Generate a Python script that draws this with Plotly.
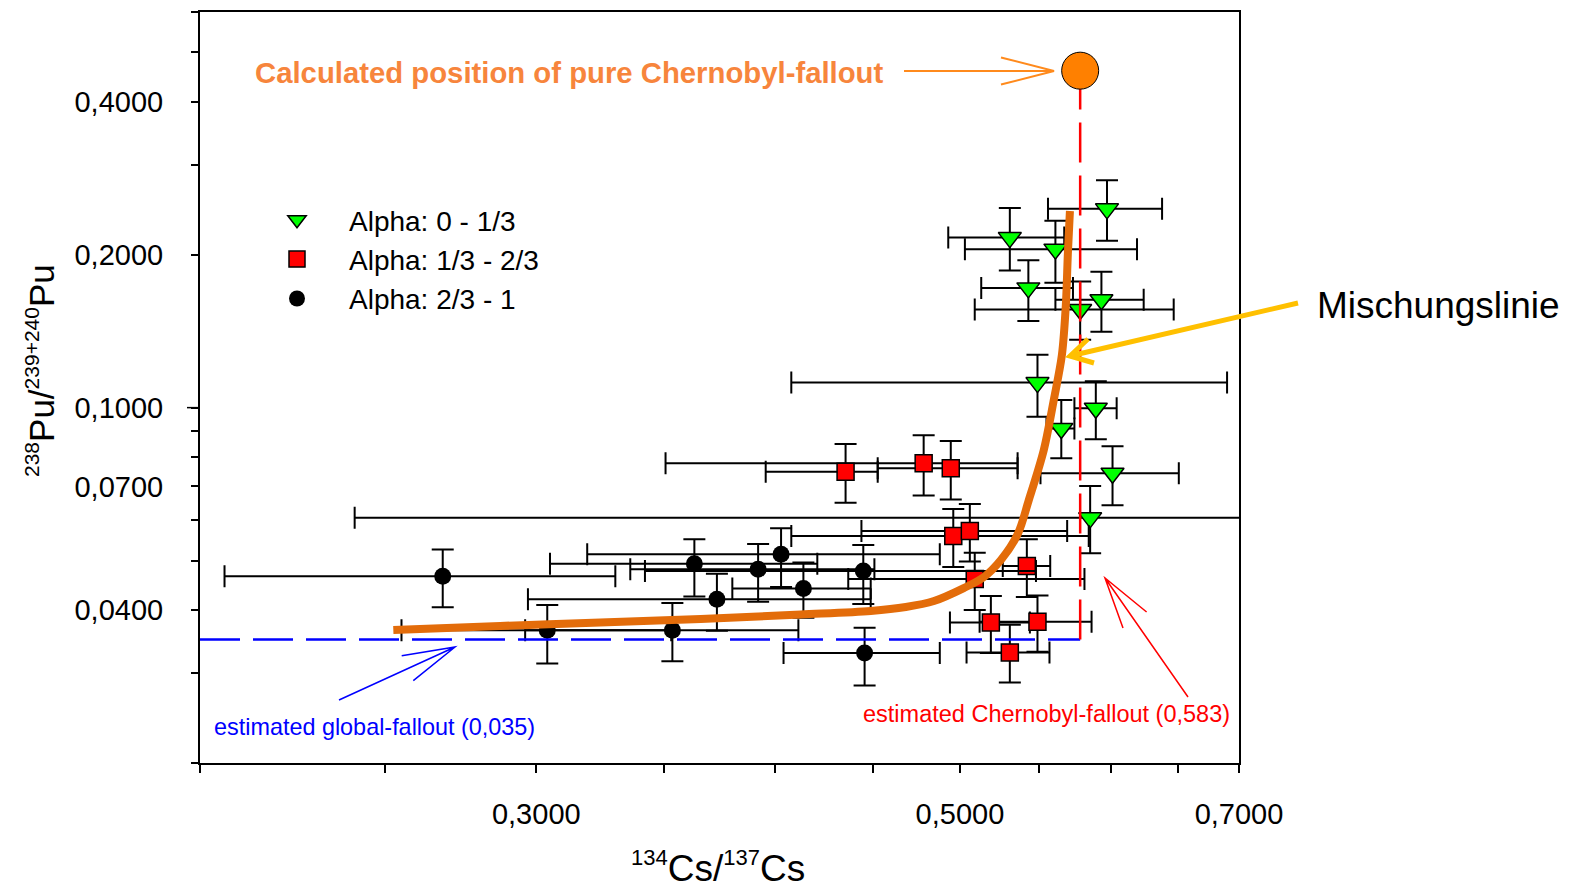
import math
import plotly.graph_objects as go

# ---------------- data ----------------
# Alpha: 0 - 1/3  (green triangles)
green_x = [0.597, 0.531, 0.561, 0.543, 0.578, 0.593, 0.549, 0.589, 0.565, 0.601, 0.585]
green_x_minus = [0.041, 0.038, 0.058, 0.030, 0.069, 0.032, 0.141, 0.015, 0.010, 0.050, 0.344]
green_x_plus = [0.041, 0.036, 0.058, 0.030, 0.069, 0.031, 0.141, 0.015, 0.009, 0.050, 0.344]
green_y = [0.246, 0.216, 0.205, 0.172, 0.156, 0.163, 0.112, 0.0997, 0.091, 0.0743, 0.0607]
green_y_minus = [0.033, 0.030, 0.029, 0.024, 0.020, 0.022, 0.016, 0.013, 0.0115, 0.010, 0.009]
green_y_plus = [0.034, 0.031, 0.028, 0.023, 0.021, 0.022, 0.015, 0.013, 0.0125, 0.0097, 0.0094]

# Alpha: 1/3 - 2/3  (red squares)
red_x = [0.4356, 0.4786, 0.4945, 0.496, 0.506, 0.542, 0.509, 0.519, 0.549, 0.531]
red_x_minus = [0.040, 0.128, 0.0417, 0.088, 0.062, 0.0155, 0.072, 0.025, 0.037, 0.027]
red_x_plus = [0.0172, 0.0574, 0.0415, 0.088, 0.063, 0.0155, 0.072, 0.025, 0.037, 0.026]
red_y = [0.0748, 0.0777, 0.0760, 0.0559, 0.0572, 0.0488, 0.0460, 0.0378, 0.0379, 0.0330]
red_y_minus = [0.0098, 0.0105, 0.0100, 0.0073, 0.0074, 0.0064, 0.0060, 0.0049, 0.0048, 0.0042]
red_y_plus = [0.0100, 0.0105, 0.0100, 0.0073, 0.0074, 0.0063, 0.0058, 0.0048, 0.0048, 0.0044]

# Alpha: 2/3 - 1  (black circles)
black_x = [0.268, 0.304, 0.3535, 0.363, 0.373, 0.392, 0.403, 0.414, 0.445, 0.4457]
black_x_minus = [0.062, 0.049, 0.0575, 0.058, 0.076, 0.056, 0.084, 0.034, 0.103, 0.0415]
black_x_plus = [0.062, 0.049, 0.058, 0.058, 0.076, 0.059, 0.085, 0.035, 0.103, 0.0423]
black_y = [0.0466, 0.0365, 0.0365, 0.0493, 0.0420, 0.0481, 0.0515, 0.0441, 0.0477, 0.0329]
black_y_minus = [0.0061, 0.0051, 0.0048, 0.0068, 0.0056, 0.0066, 0.0071, 0.0055, 0.0066, 0.0045]
black_y_plus = [0.0060, 0.0044, 0.0048, 0.0058, 0.0051, 0.0058, 0.0064, 0.0055, 0.0060, 0.0040]

# Mixing line (Mischungslinie)
curve_x = [0.2525, 0.2872, 0.3241, 0.3658, 0.4127, 0.4490, 0.4684, 0.4846, 0.5023, 0.5146,
           0.5253, 0.5361, 0.5433, 0.5532, 0.5599, 0.5654, 0.5681, 0.5695, 0.5709]
curve_y = [0.03653, 0.03720, 0.03779, 0.03840, 0.03919, 0.03982, 0.04054, 0.04166, 0.04417, 0.04642,
           0.05015, 0.05641, 0.06581, 0.08254, 0.10350, 0.12688, 0.15912, 0.20136, 0.24360]

global_fallout_pu = 0.035        # estimated global-fallout
chernobyl_cs = 0.578             # estimated Chernobyl-fallout line as drawn
chernobyl_pu = 0.46              # calculated position of pure Chernobyl-fallout
x_start = 0.2

x_tickvals = [0.20, 0.25, 0.30, 0.35, 0.40, 0.45, 0.50, 0.55, 0.60, 0.65, 0.70]
x_ticktext = ["", "", "0,3000", "", "", "", "0,5000", "", "", "", "0,7000"]
y_tickvals = [0.02, 0.03, 0.04, 0.05, 0.06, 0.07, 0.08, 0.09, 0.1, 0.2, 0.3, 0.4, 0.5, 0.6]
y_ticktext = ["", "", "0,0400", "", "", "0,0700", "", "", "0,1000", "0,2000", "", "0,4000", "", ""]

X_RANGE = (0.2, 0.7)
Y_RANGE = (0.02, 0.6)

# ---------------- layout helpers ----------------
W, H = 1571, 890
L, R, T, B = 200, 1239, 12, 763
FONT = "Liberation Sans, Arial, sans-serif"


def px(xp):
    return (xp - L) / (R - L)


def py(yp):
    return (B - yp) / (B - T)


def arrow_path(x0, y0, x1, y1, a1, a2):
    """shaft (x0,y0)->(x1,y1) plus chevron arms ending at a1, a2 (pixels)"""
    return ("M {} {} L {} {} M {} {} L {} {} L {} {}".format(
        px(x0), py(y0), px(x1), py(y1),
        px(a1[0]), py(a1[1]), px(x1), py(y1), px(a2[0]), py(a2[1])))


def sup(t, size):
    return "<sup><span style='font-size:{}px'>{}</span></sup>".format(size, t)


fig = go.Figure()


def err(arr_plus, arr_minus):
    return dict(type="data", symmetric=False, array=arr_plus, arrayminus=arr_minus,
                color="black", thickness=2, width=11)


fig.add_trace(go.Scatter(
    x=green_x, y=green_y, mode="markers", name="Alpha: 0 - 1/3",
    marker=dict(symbol="triangle-down", size=20, color="#00FF00",
                line=dict(color="black", width=1.5)),
    error_x=err(green_x_plus, green_x_minus), error_y=err(green_y_plus, green_y_minus)))

fig.add_trace(go.Scatter(
    x=red_x, y=red_y, mode="markers", name="Alpha: 1/3 - 2/3",
    marker=dict(symbol="square", size=17, color="#FF0000",
                line=dict(color="black", width=1.5)),
    error_x=err(red_x_plus, red_x_minus), error_y=err(red_y_plus, red_y_minus)))

fig.add_trace(go.Scatter(
    x=black_x, y=black_y, mode="markers", name="Alpha: 2/3 - 1",
    marker=dict(symbol="circle", size=17, color="black"),
    error_x=err(black_x_plus, black_x_minus), error_y=err(black_y_plus, black_y_minus)))

# global fallout (blue dashed)
fig.add_trace(go.Scatter(
    x=[x_start, chernobyl_cs], y=[global_fallout_pu, global_fallout_pu], mode="lines",
    line=dict(color="#0000FF", width=2.5, dash="40px,13px"), showlegend=False, hoverinfo="skip"))

# Chernobyl fallout (red dashed)
fig.add_trace(go.Scatter(
    x=[chernobyl_cs, chernobyl_cs], y=[global_fallout_pu, chernobyl_pu], mode="lines",
    line=dict(color="#FF0000", width=2.5, dash="40px,13px"), showlegend=False, hoverinfo="skip"))

# mixing line
fig.add_trace(go.Scatter(
    x=curve_x, y=curve_y, mode="lines",
    line=dict(color="#E36C0A", width=8, shape="spline", smoothing=0.9),
    showlegend=False, hoverinfo="skip"))

# pure Chernobyl point
fig.add_trace(go.Scatter(
    x=[chernobyl_cs], y=[chernobyl_pu], mode="markers",
    marker=dict(symbol="circle", size=37, color="#FF8000", line=dict(color="black", width=1)),
    showlegend=False, hoverinfo="skip", cliponaxis=False))

axis_common = dict(type="log", showgrid=False, zeroline=False, showline=True, linecolor="black",
                   linewidth=2, mirror=True, ticks="outside", tickcolor="black", tickwidth=1.5,
                   tickmode="array", tickfont=dict(size=29, family=FONT, color="black"))

fig.update_xaxes(**axis_common, range=[math.log10(X_RANGE[0]), math.log10(X_RANGE[1])],
                 tickvals=x_tickvals, ticktext=x_ticktext, ticklen=8, ticklabelstandoff=16)
fig.update_yaxes(**axis_common, range=[math.log10(Y_RANGE[0]), math.log10(Y_RANGE[1])],
                 tickvals=y_tickvals, ticktext=y_ticktext, ticklen=7, ticklabelstandoff=22)

y01 = (math.log10(0.1) - math.log10(Y_RANGE[0])) / (math.log10(Y_RANGE[1]) - math.log10(Y_RANGE[0]))

shapes = [
    # longer tick at 0,1000
    dict(type="line", xref="paper", yref="paper", x0=px(187), x1=px(199), y0=y01, y1=y01,
         line=dict(color="black", width=1.5)),
    # orange arrow to the calculated point
    dict(type="path", xref="paper", yref="paper",
         path=arrow_path(904, 71, 1054, 71, (1001, 57.5), (1001, 84.5)),
         line=dict(color="#FF8A1C", width=2)),
    # Mischungslinie arrow
    dict(type="path", xref="paper", yref="paper",
         path=arrow_path(1298, 303, 1070, 356, (1094, 363), (1088, 339)),
         line=dict(color="#FFC000", width=5)),
    # global fallout arrow
    dict(type="path", xref="paper", yref="paper",
         path=arrow_path(339, 700, 455, 647, (401.7, 655.7), (413.3, 680.7)),
         line=dict(color="#0000FF", width=1.5)),
    # Chernobyl fallout arrow
    dict(type="path", xref="paper", yref="paper",
         path=arrow_path(1188, 697, 1105, 578, (1146.6, 612), (1123, 628)),
         line=dict(color="#FF0000", width=1.5)),
]

annotations = [
    dict(text="<b>Calculated position of pure Chernobyl-fallout</b>", x=px(253), y=py(73),
         xanchor="left", yanchor="middle", font=dict(size=29.3, family=FONT, color="#F7853C")),
    dict(text="Mischungslinie", x=px(1315), y=py(305), xanchor="left", yanchor="middle",
         font=dict(size=37, family=FONT, color="black")),
    dict(text="estimated global-fallout (0,035)", x=px(212), y=py(727), xanchor="left",
         yanchor="middle", font=dict(size=23.4, family=FONT, color="#0000FF")),
    dict(text="estimated Chernobyl-fallout (0,583)", x=px(1232), y=py(714), xanchor="right",
         yanchor="middle", font=dict(size=23.5, family=FONT, color="#FF0000")),
    dict(text=sup("134", 22) + "Cs/" + sup("137", 22) + "Cs", x=px(718), y=py(867),
         xanchor="center", yanchor="middle", font=dict(size=37, family=FONT, color="black")),
    dict(text=sup("238", 21) + "Pu/" + sup("239+240", 21) + "Pu", x=px(40), y=py(371),
         xanchor="center", yanchor="middle", textangle=-90,
         font=dict(size=35, family=FONT, color="black")),
]
for a in annotations:
    a.update(xref="paper", yref="paper", showarrow=False)

fig.update_layout(
    width=W, height=H,
    margin=dict(l=L, r=W - R, t=T, b=H - B, autoexpand=False),
    plot_bgcolor="white", paper_bgcolor="white",
    font=dict(family=FONT, color="black"),
    shapes=shapes, annotations=annotations,
    showlegend=True,
    legend=dict(x=px(245), y=py(195), xanchor="left", yanchor="top",
                font=dict(size=28, family=FONT, color="black"),
                bgcolor="rgba(0,0,0,0)", itemwidth=94, tracegroupgap=0),
)

fig.write_html("out.html", config={"displayModeBar": False},
               post_script="document.body.style.margin='0';document.body.style.overflow='hidden';")
